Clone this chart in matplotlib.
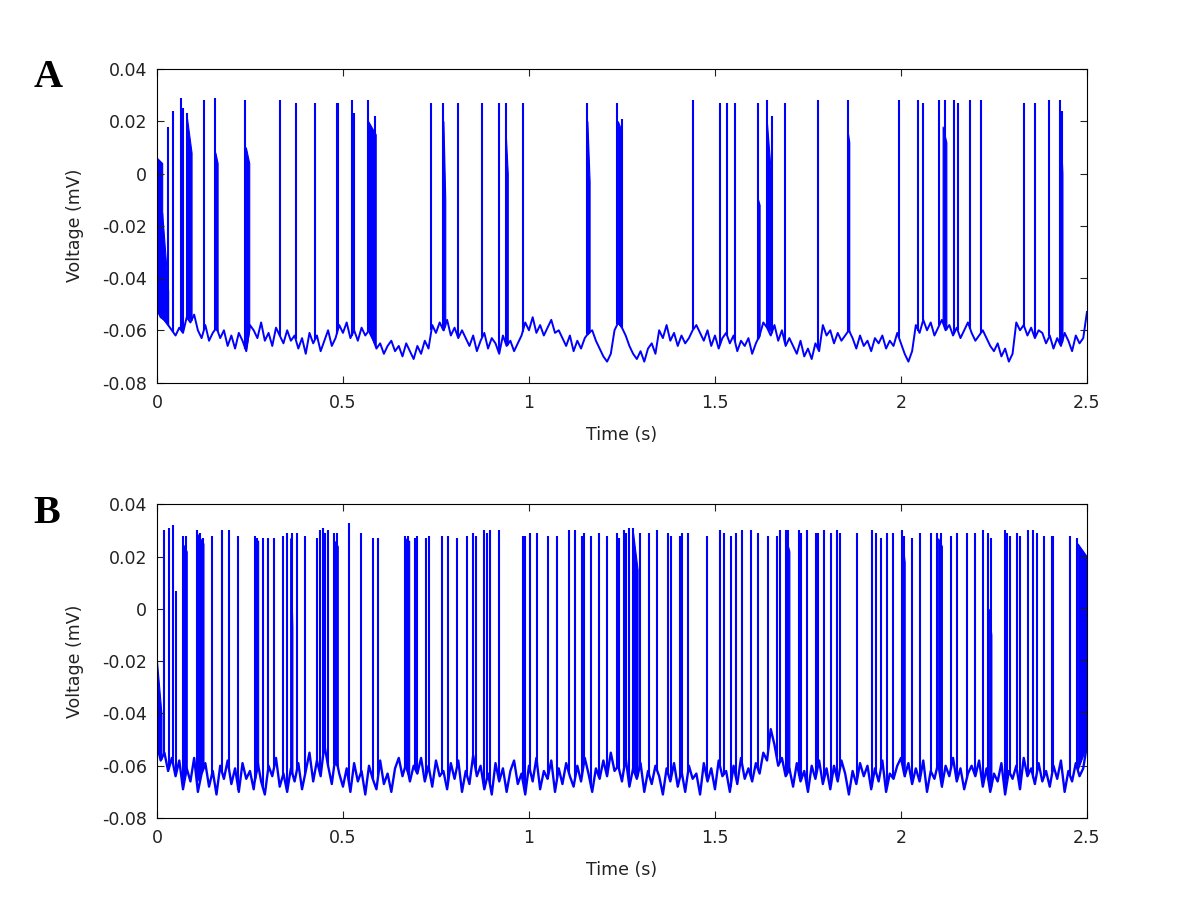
import numpy as np
import matplotlib
matplotlib.use("Agg")
import matplotlib.pyplot as plt
from matplotlib.ticker import FuncFormatter

plt.rcParams['font.family'] = ['DejaVu Sans']
plt.rcParams['axes.unicode_minus'] = False

# ---------------- data (voltage values in thousandths of the axis unit) -------------
x_ticks = [0, 0.5, 1, 1.5, 2, 2.5]
y_ticks = [0.04, 0.02, 0, -0.02, -0.04, -0.06, -0.08]

# Panel A: resting trace sampled every 10 ms, 0 .. 2.5 s
base_A = [-52, -55, -56, -58,
          -60, -62, -59, -61,
          -55, -57, -54,
          -60, -63, -58, -64, -61, -59,
          -63, -60, -66, -62, -67, -61, -64, -68,
          -58, -60, -63, -57, -64, -61, -66, -59, -62, -65,
          -60, -64, -62, -67, -63, -69, -61, -65, -62, -68, -64, -60, -66, -63,
          -58, -61, -57, -63, -60, -64, -59, -62, -60,
          -63, -67, -65, -69, -66,
          -64, -68, -66, -70, -65,
          -68, -71, -66, -69, -64, -67,
          -58, -61, -57, -60, -56, -62, -59, -63, -60,
          -63, -66, -62, -68, -64, -61, -67, -63, -65, -69, -62, -66, -64, -68, -65, -62,
          -57, -60, -55, -61, -58, -62, -59, -56, -61, -60,
          -63, -66, -62, -68, -64, -67, -63, -61,
          -60, -64, -67, -70, -72, -69,
          -60, -57, -59, -62,
          -66, -69, -71, -68, -72, -67, -65, -69,
          -60, -63, -58, -64, -61, -66, -62, -65, -63, -60,
          -58, -61, -64, -60, -66, -62, -67, -63,
          -61, -65, -62, -68, -64, -66, -63, -69, -65, -62,
          -57, -59, -62, -58, -64, -60, -66, -63,
          -66, -69, -64, -70, -67, -71, -65, -68,
          -58, -62, -60, -65, -61, -64, -62, -60,
          -63, -67, -62, -66, -64, -68, -63, -65, -62, -67, -64, -66, -61, -65,
          -69, -72, -68,
          -58, -61, -56, -60, -57, -62, -59, -56, -60, -58, -62, -59, -63, -60, -57, -61, -64, -62, -60,
          -63, -66, -68, -65, -70, -67, -72, -69,
          -57, -60, -58, -62, -59, -63, -60, -61,
          -65, -62, -67, -63, -66, -61, -64, -68, -62, -65, -63, -53]

spike_t_A = [0.030, 0.044, 0.0645, 0.071, 0.082, 0.126, 0.156, 0.238, 0.330, 0.373,
             0.425, 0.483, 0.487, 0.523, 0.530, 0.568, 0.586, 0.738, 0.770, 0.808,
             0.875, 0.919, 0.938, 0.983, 1.157, 1.238, 1.249, 1.442, 1.513, 1.533,
             1.554, 1.616, 1.639, 1.652, 1.688, 1.776, 1.857, 1.995, 2.047, 2.060,
             2.103, 2.119, 2.142, 2.152, 2.186, 2.215, 2.331, 2.361, 2.399, 2.427, 2.432]
spike_v_A = [18, 24, 29, 25, 23, 28, 29, 28, 28, 27,
             27, 27, 27, 28, 23, 28, 22, 27, 27, 27,
             27, 27, 27, 27, 27, 27, 21, 28, 27, 27,
             27, 27, 28, 22, 27, 28, 28, 28, 28, 27,
             28, 28, 28, 27, 28, 28, 27, 27, 28, 28, 24]

# dense after-depolarisation blocks: start, end, top at start, top at end
burst_start_A = [0.000, 0.014, 0.080, 0.157, 0.239, 0.568, 0.770, 0.938, 1.157, 1.239, 1.616, 1.640, 1.858, 2.112, 2.428]
burst_end_A   = [0.014, 0.030, 0.093, 0.163, 0.248, 0.588, 0.775, 0.943, 1.163, 1.250, 1.620, 1.653, 1.861, 2.122, 2.434]
burst_top0_A  = [6, -15, 22, 8, 10, 20, 20, 14, 20, 20, -10, 19, 15, 18, 21]
burst_top1_A  = [4, -45, 8, 4, 4, 15, -10, 0, -3, 16, -12, -5, 12, 12, 0]

# Panel B
base_B = [-52, -58, -55, -62, -57,
          -64, -58, -69, -61, -66, -57, -70, -63, -59, -68, -62, -71, -60, -65, -58,
          -67, -61, -70, -59, -65, -62, -69, -58, -66, -71, -60, -64, -57, -68, -63, -70, -61, -66, -59, -69,
          -62, -55, -66, -58, -64, -52, -60, -67, -56, -63,
          -68, -61, -70, -59, -66, -62, -71, -60, -65, -69, -58, -67, -63, -70, -61, -57, -64, -59, -66, -60,
          -63, -57, -66, -60, -68, -58, -64, -62, -69, -59,
          -65, -58, -70, -62, -67, -56, -64, -60, -69, -63, -71, -59, -66, -61, -70, -62, -58, -67, -63, -71,
          -60, -66, -57, -69, -62, -65, -58, -70, -61, -67, -59, -64, -68, -60, -66, -57, -63, -70, -61, -65,
          -58, -64, -55, -62, -60, -66, -57, -68, -61, -65, -59, -70, -62, -67, -60, -64, -71, -61, -66, -59,
          -68, -62, -70, -60, -65, -63, -71, -59, -66, -61, -69, -58, -64, -62, -70, -60, -67, -57, -65, -61,
          -66, -59, -63, -55, -58, -46, -52, -60, -57, -64, -61, -68, -59, -66, -62, -70, -60, -65, -58, -67,
          -61, -69, -60, -66, -58, -63, -71, -62, -67, -59, -64, -60, -69, -61, -66, -58, -70, -63, -65, -60,
          -57, -64, -59, -67, -61, -66, -58, -70, -62, -65, -59, -68, -60, -64, -57, -66, -61, -69, -63, -60,
          -64, -58, -68, -61, -70, -63, -66, -59, -71, -62, -65, -60, -69, -57, -64, -61, -67, -59, -66, -62,
          -68, -60, -65, -58, -70, -62, -66, -59, -64, -61, -52]

spike_t_B = [0.0188, 0.033, 0.044, 0.051, 0.069, 0.078, 0.107, 0.116, 0.123, 0.147,
             0.174, 0.194, 0.219, 0.263, 0.270, 0.286, 0.299, 0.315, 0.340, 0.349,
             0.362, 0.376, 0.398, 0.431, 0.438, 0.447, 0.452, 0.460, 0.477, 0.483,
             0.516, 0.548, 0.581, 0.595, 0.667, 0.676, 0.694, 0.700, 0.723, 0.732,
             0.765, 0.783, 0.807, 0.834, 0.850, 0.858, 0.879, 0.886, 0.895, 0.920,
             0.983, 0.989, 1.003, 1.022, 1.050, 1.076, 1.108, 1.124, 1.142, 1.148,
             1.168, 1.188, 1.209, 1.237, 1.243, 1.255, 1.261, 1.268, 1.280, 1.298,
             1.323, 1.345, 1.375, 1.381, 1.406, 1.412, 1.428, 1.479, 1.513, 1.524,
             1.542, 1.556, 1.572, 1.596, 1.616, 1.643, 1.666, 1.675, 1.691, 1.697,
             1.727, 1.730, 1.747, 1.772, 1.778, 1.794, 1.812, 1.829, 1.836, 1.883,
             1.921, 1.933, 1.946, 1.963, 1.978, 2.002, 2.008, 2.029, 2.051, 2.080,
             2.096, 2.107, 2.134, 2.151, 2.177, 2.199, 2.220, 2.235, 2.241, 2.280,
             2.286, 2.293, 2.311, 2.320, 2.342, 2.356, 2.366, 2.384, 2.407, 2.410,
             2.454, 2.472]
spike_v_B = [30, 31, 32, 7, 28, 28, 30, 29, 27, 28,
             30, 30, 28, 28, 27, 27, 27, 27, 28, 29,
             29, 29, 28, 27, 30, 31, 29, 30, 29, 29,
             33, 29, 27, 27, 28, 28, 27, 28, 27, 28,
             28, 28, 27, 28, 29, 28, 30, 29, 30, 30,
             28, 28, 29, 29, 28, 28, 30, 30, 28, 29,
             28, 29, 28, 29, 27, 30, 29, 31, 31, 29,
             29, 30, 29, 28, 28, 29, 29, 28, 30, 29,
             28, 29, 30, 30, 29, 28, 28, 30, 30, 30,
             30, 29, 30, 29, 29, 30, 29, 30, 29, 29,
             30, 29, 27, 29, 29, 30, 28, 27, 29, 29,
             29, 29, 28, 29, 29, 29, 30, 29, 27, 30,
             29, 28, 29, 28, 30, 30, 29, 28, 28, 28,
             28, 27]

burst_start_B = [0.000, 0.069, 0.107, 0.263, 0.358, 0.477, 0.667, 1.280, 1.691, 2.002, 2.100, 2.236, 2.475]
burst_end_B   = [0.012, 0.080, 0.125, 0.272, 0.364, 0.486, 0.678, 1.292, 1.700, 2.010, 2.110, 2.243, 2.500]
burst_top0_B  = [-20, 25, 29, 27, 27, 26, 27, 29, 27, 28, 27, 0, 25]
burst_top1_B  = [-40, 22, 25, 26, -7, 24, 26, 15, 22, 18, 24, -10, 20]

panels = [
    ("A", base_A, spike_t_A, spike_v_A, burst_start_A, burst_end_A, burst_top0_A, burst_top1_A),
    ("B", base_B, spike_t_B, spike_v_B, burst_start_B, burst_end_B, burst_top0_B, burst_top1_B),
]

# ---------------- figure ----------------
fig = plt.figure(figsize=(12, 9.18), dpi=100)
rects = [[0.1308, 0.5833, 0.775, 0.3415], [0.1308, 0.1089, 0.775, 0.3417]]
letter_pos = [(0.040, 0.916), (0.039, 0.441)]
blue = '#0000ff'
fmt = FuncFormatter(lambda v, p: ('%g' % round(v, 4)))

for (name, base, st, sv, bs, be, b0, b1), rect, lp in zip(panels, rects, letter_pos):
    ax = fig.add_axes(rect)
    base_v = np.array(base) / 1000.0
    t = np.linspace(0, 2.5, len(base_v))
    ax.plot(t, base_v, color=blue, lw=1.7 if name == "B" else 1.4)
    st = np.array(st)
    ax.vlines(st, np.interp(st, t, base_v), np.array(sv) / 1000.0, color=blue, lw=1.5)
    for s, e, a, b in zip(bs, be, b0, b1):
        xs = np.array([s, e])
        ax.fill_between(xs, np.interp(xs, t, base_v), np.array([a, b]) / 1000.0,
                        color=blue, lw=0.8)
    ax.set_xlim(0, 2.5)
    ax.set_ylim(-0.08, 0.04)
    ax.set_xticks(x_ticks)
    ax.set_yticks(y_ticks)
    ax.xaxis.set_major_formatter(fmt)
    ax.yaxis.set_major_formatter(fmt)
    ax.tick_params(direction='in', top=True, right=True, length=5, width=0.8,
                   labelsize=12.5, colors='#222222')
    ax.tick_params(axis='x', pad=8)
    ax.tick_params(axis='y', pad=7)
    for sp in ax.spines.values():
        sp.set_linewidth(0.8)
    ax.set_xlabel('Time (s)', fontsize=12.5, labelpad=10, color='#222222')
    ax.set_ylabel('Voltage (mV)', fontsize=12.5, labelpad=13, color='#222222')
    fig.text(lp[0], lp[1], name, fontsize=29, fontweight='bold',
             family=['Liberation Serif', 'DejaVu Serif'], ha='center', va='center')

fig.savefig('out.png', dpi=100, facecolor='white')
